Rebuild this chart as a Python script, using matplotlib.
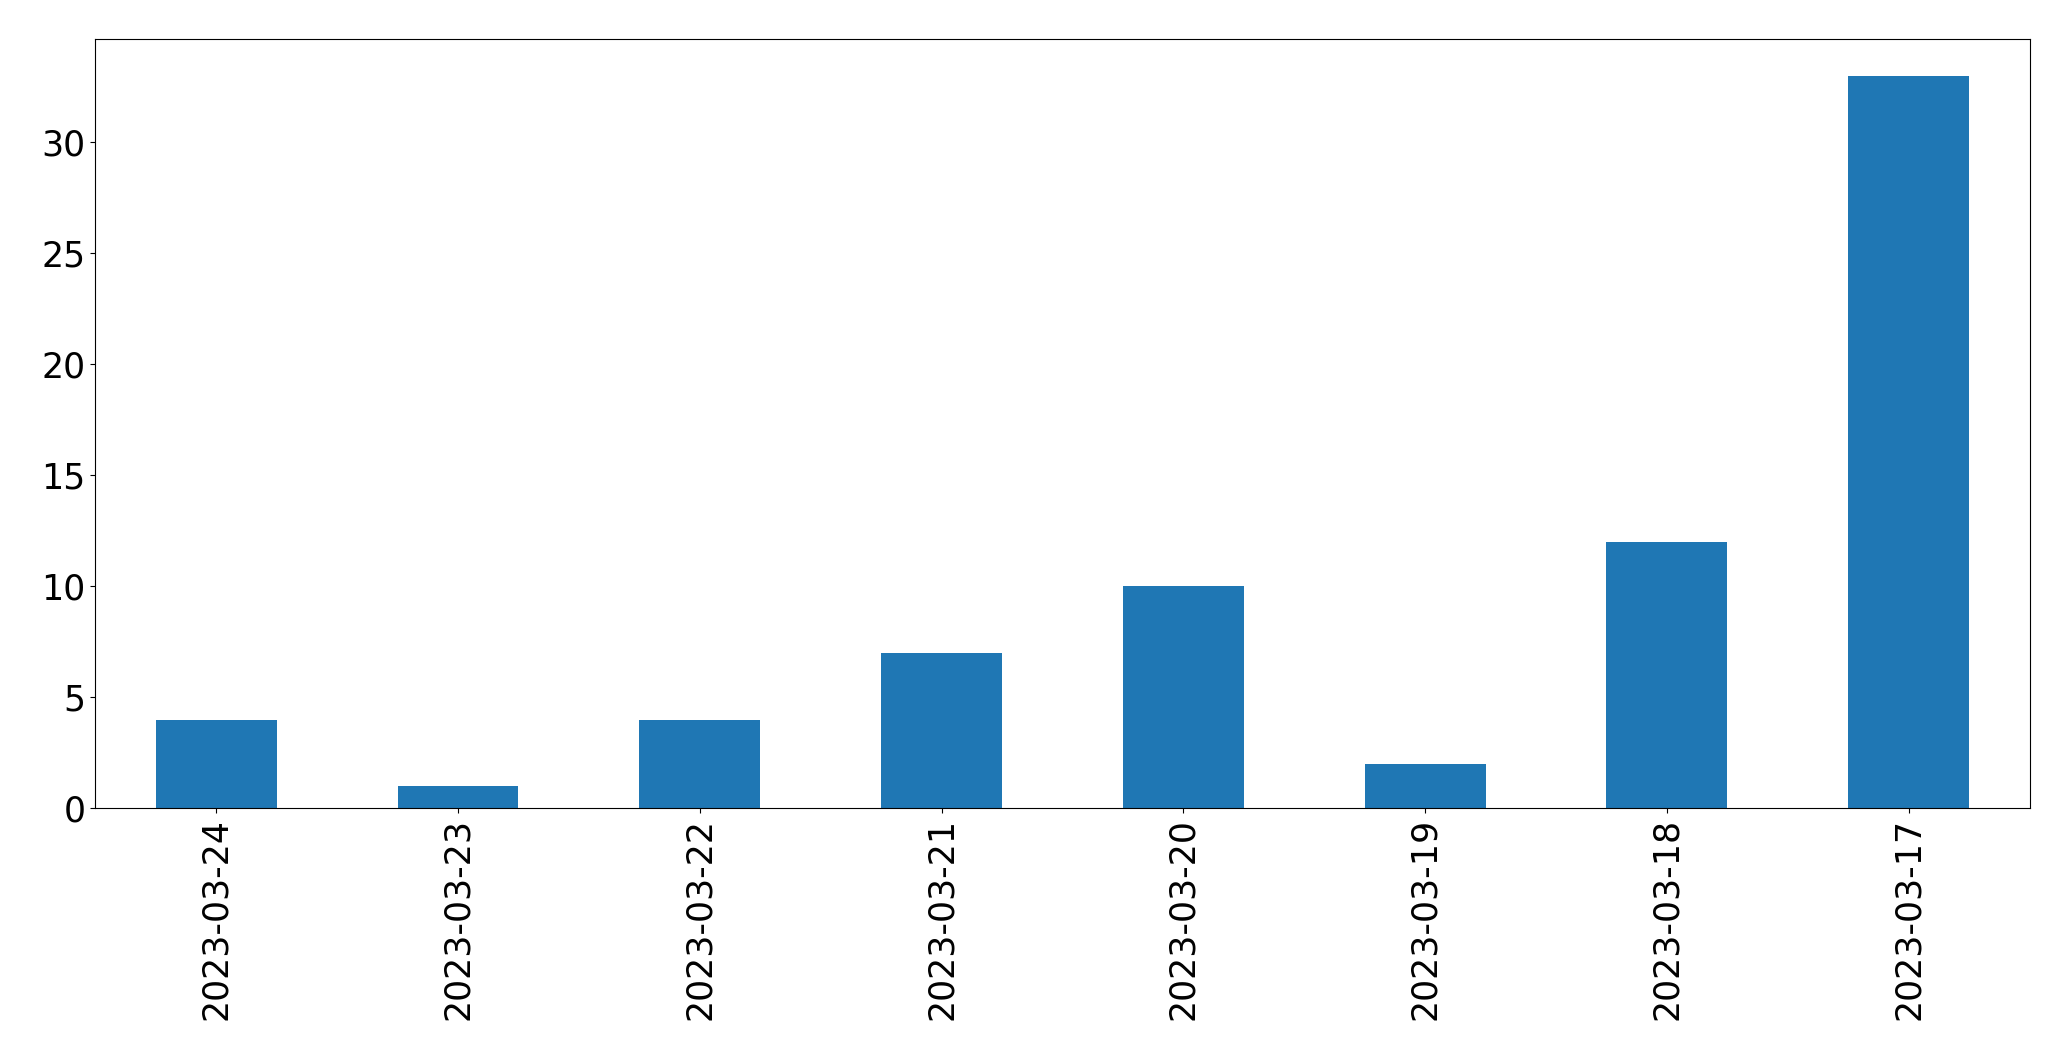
import matplotlib
matplotlib.use("Agg")
import matplotlib.pyplot as plt

dates = ["2023-03-24", "2023-03-23", "2023-03-22", "2023-03-21",
         "2023-03-20", "2023-03-19", "2023-03-18", "2023-03-17"]
counts = [4, 1, 4, 7, 10, 2, 12, 33]

fig = plt.figure(figsize=(20.71, 10.61), dpi=100)
ax = fig.add_axes([0.046, 0.238, 0.934, 0.725])
x = list(range(len(dates)))
ax.bar(x, counts, width=0.5, color="#1f77b4")
ax.set_xticks(x)
ax.set_xticklabels(dates, rotation=90)
ax.set_xlim(-0.5, len(dates) - 0.5)
ax.set_ylim(0, 34.65)
ax.tick_params(labelsize=25)
fig.savefig("out.png", dpi=100)
